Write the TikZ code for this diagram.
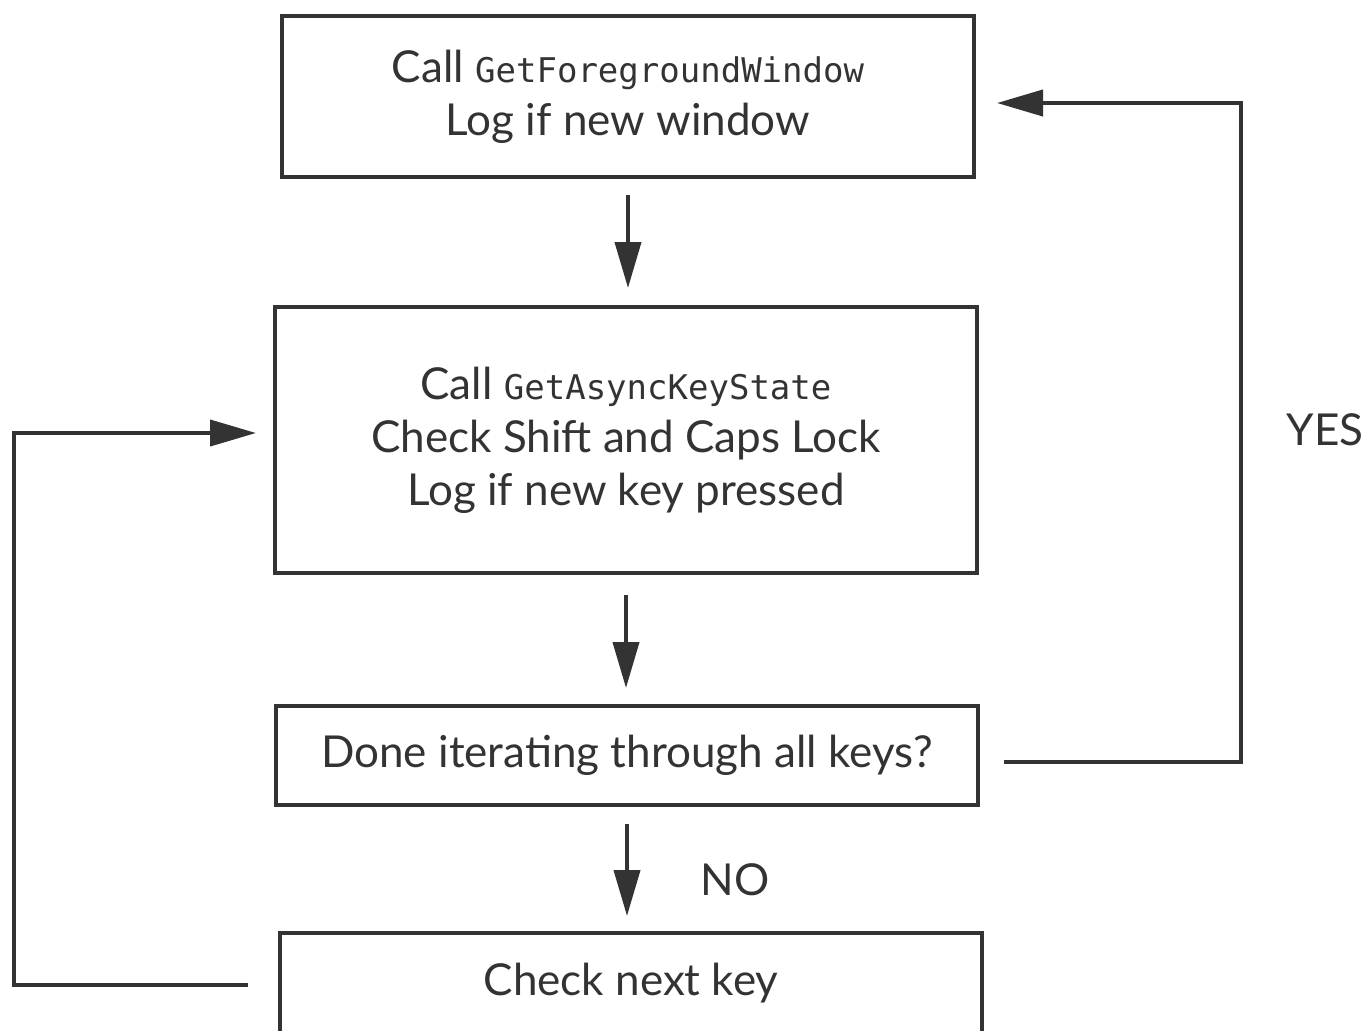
\documentclass[tikz,border=0pt]{standalone}
\usepackage{fontspec}
\setmainfont{Lato}
\setmonofont{DejaVu Sans Mono}
\usetikzlibrary{arrows.meta}
\definecolor{ink}{HTML}{333333}
\newcommand{\apiname}[1]{{\ttfamily\fontsize{17}{26}\selectfont #1}}

\begin{document}
\begin{tikzpicture}[
    x=0.5pt, y=-0.5pt,
    every node/.style={font=\fontsize{22}{26.5}\selectfont, text=ink},
    box/.style={rectangle, draw=ink, line width=2pt, minimum width=351pt, align=center, inner sep=0pt},
    flow/.style={draw=ink, line width=2pt, -{Triangle[length=23pt,width=13pt]}},
    branch/.style={font=\fontsize{22}{26}\selectfont}
]
\useasboundingbox (0,0) rectangle (1365,1030);

% Boxes, top to bottom
\node[box, minimum width=346pt, minimum height=80.5pt] (window) at (628, 96.5)
    {Call \apiname{GetForegroundWindow}\\Log if new window};
\node[box, minimum height=133pt] (keys) at (626, 440)
    {Call \apiname{GetAsyncKeyState}\\Check Shift and Caps Lock\\Log if new key pressed};
\node[box, minimum height=49.5pt] (done) at (627, 755.5) {Done iterating through all keys?};
\node[box, minimum height=50pt] (next) at (631, 983) {Check next key};

% Loop corners
\coordinate (leftlow) at (14, 985);
\coordinate (lefthigh) at (14, 433);
\coordinate (rightlow) at (1241, 762);
\coordinate (righthigh) at (1241, 103);

% Straight arrows down
\draw[flow] ([yshift=-8pt]window.south) -- ([yshift=8.5pt]window.south |- keys.north);
\draw[flow] ([yshift=-10pt]keys.south) -- ([yshift=8pt]keys.south |- done.north);
\draw[flow] ([yshift=-8.5pt]done.south) -- ([yshift=7.5pt]done.south |- next.north);

% Loop back to the key check
\draw[flow] ([xshift=-15pt]next.west |- leftlow) -- (leftlow) -- (lefthigh)
    -- ([xshift=-8.5pt]keys.west |- lefthigh);

% Loop back to the window check
\draw[flow] ([xshift=12pt]done.east |- rightlow) -- (rightlow) -- (righthigh)
    -- ([xshift=10.5pt]window.east |- righthigh);

% Branch labels
\node[branch] (no) at (735, 880) {NO};
\node[branch] (yes) at (1325, 430) {YES};

\end{tikzpicture}
\end{document}
